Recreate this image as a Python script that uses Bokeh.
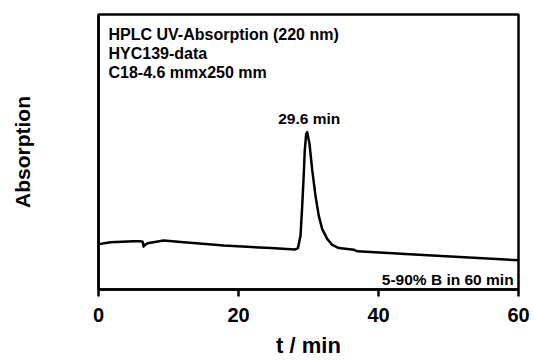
import numpy as np
from bokeh.plotting import figure
from bokeh.models import Label, FixedTicker, Range1d
from bokeh.embed import file_html
from bokeh.resources import INLINE

# chromatogram trace (time in min, absorption in arbitrary units)
t_min = [0.0, 0.3, 1.7, 5.0, 6.0, 6.3, 6.45, 6.6, 7.0, 9.3, 12.2, 17.9, 24.6, 28.1,
         28.5, 28.86, 29.1, 29.33, 29.47, 29.67, 29.81, 30.14, 30.53, 31.0, 31.47,
         31.96, 32.67, 33.39, 34.33, 36.5, 37.0, 46.4, 60.0]
absorb = [46, 46.3, 48, 49, 49, 48.5, 43.5, 45, 47, 49.7, 48, 44.7, 42, 40.7,
          42, 54.7, 84.7, 118, 141.3, 158, 159.7, 148, 121.3, 95, 74.7,
          61.3, 51.3, 45.3, 42, 40.3, 38.7, 35, 29.7]
x_ticks = [0, 20, 40, 60]
info_lines = ["HPLC UV-Absorption (220 nm)", "HYC139-data", "C18-4.6 mmx250 mm"]
peak_label = "29.6 min"
gradient_label = "5-90% B in 60 min"

FONT = "Liberation Sans"

p = figure(width=534, height=360, output_backend="svg", toolbar_location=None,
           x_range=Range1d(0, 60), y_range=Range1d(0, 279),
           min_border_left=98, min_border_right=16, min_border_top=14,
           min_border_bottom=67, background_fill_color="white",
           border_fill_color="white")
p.grid.visible = False
p.outline_line_color = "black"
p.outline_line_width = 2.5

p.line(t_min, absorb, line_color="black", line_width=2.5, line_join="round")

xa = p.xaxis[0]
xa.ticker = FixedTicker(ticks=x_ticks)
xa.minor_tick_line_color = None
xa.major_tick_in = 0
xa.major_tick_out = 7
xa.major_tick_line_width = 2.5
xa.axis_line_width = 2.5
xa.major_label_text_font = FONT
xa.major_label_text_font_style = "bold"
xa.major_label_text_font_size = "20px"
xa.major_label_text_color = "black"
xa.major_label_standoff = 11
xa.axis_label = "t / min"
xa.axis_label_text_font = FONT
xa.axis_label_text_font_style = "bold"
xa.axis_label_text_font_size = "22px"
xa.axis_label_text_color = "black"
xa.axis_label_standoff = 8

ya = p.yaxis[0]
ya.ticker = FixedTicker(ticks=[])
ya.minor_tick_line_color = None
ya.major_tick_line_color = None
ya.axis_line_width = 2.5
ya.axis_label = "Absorption"
ya.axis_label_text_font = FONT
ya.axis_label_text_font_style = "bold"
ya.axis_label_text_font_size = "21px"
ya.axis_label_text_color = "black"
ya.axis_label_standoff = 65

base_x = (108 - 98) / 7
for i, s in enumerate(info_lines):
    p.add_layout(Label(x=base_x, y=259 - 19.5 * i, text=s, text_align="left",
                       text_baseline="middle", text_font=FONT, text_color="black",
                       text_font_style="bold", text_font_size="16px"))

p.add_layout(Label(x=30.1, y=173, text=peak_label, text_align="center",
                   text_baseline="middle", text_font=FONT, text_color="black",
                   text_font_style="bold", text_font_size="15.5px"))
p.add_layout(Label(x=59.3, y=10, text=gradient_label, text_align="right",
                   text_baseline="middle", text_font=FONT, text_color="black",
                   text_font_style="bold", text_font_size="15.5px"))

open("out.html", "w").write(file_html(p, INLINE))
